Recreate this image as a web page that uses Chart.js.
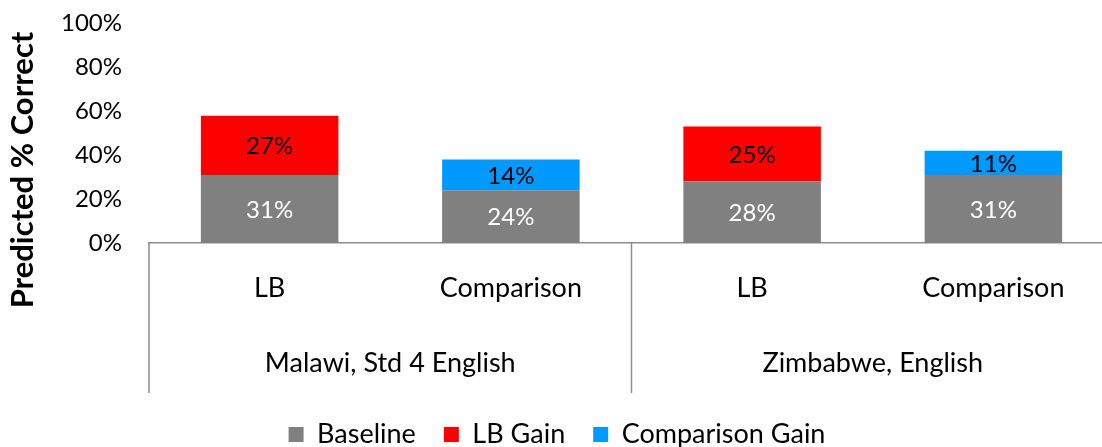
<!DOCTYPE html>
<html lang="en">
<head>
<meta charset="UTF-8">
<title>Predicted % Correct</title>
<script src="https://cdn.jsdelivr.net/npm/chart.js"></script>
<style>
  html, body { margin: 0; padding: 0; background: #fff; overflow: hidden; }
  #wrap { width: 1114px; height: 476px; margin-top: -18px; }
</style>
</head>
<body>
<div id="wrap"><canvas id="chart"></canvas></div>
<script>
// Data
const groups = ['Malawi, Std 4 English', 'Zimbabwe, English'];
const arms = ['LB', 'Comparison', 'LB', 'Comparison'];
const baseline = [31, 24, 28, 31];
const lbGain = [27, 0, 25, 0];
const comparisonGain = [0, 14, 0, 11];
const yMax = 100;
const yStep = 20;

const FONT = 'Lato, "Open Sans", sans-serif';
const axisGrey = '#8c8c8c';

// value labels in the middle of each segment
const barValues = {
  id: 'barValues',
  afterDatasetsDraw(chart) {
    const ctx = chart.ctx;
    ctx.save();
    ctx.font = '24px ' + FONT;
    ctx.textAlign = 'center';
    ctx.textBaseline = 'middle';
    chart.data.datasets.forEach((ds, i) => {
      chart.getDatasetMeta(i).data.forEach((bar, j) => {
        const v = ds.data[j];
        if (!v) return;
        const p = bar.getProps(['x', 'y', 'base'], true);
        ctx.fillStyle = ds.labelColor;
        ctx.fillText(v + '%', p.x, (p.y + p.base) / 2 + 1);
      });
    });
    ctx.restore();
  }
};

// vertical separators between the country groups, plus the y title
const groupFrame = {
  id: 'groupFrame',
  afterDraw(chart) {
    const ctx = chart.ctx;
    const x = chart.scales.x;
    const top = chart.chartArea.bottom;
    const bottom = chart.scales.x2.bottom;
    const mid = (x.getPixelForValue(1) + x.getPixelForValue(2)) / 2;
    ctx.save();
    ctx.strokeStyle = axisGrey;
    ctx.lineWidth = 1.5;
    [x.left, mid, x.right].forEach(px => {
      ctx.beginPath();
      ctx.moveTo(px, top);
      ctx.lineTo(px, bottom);
      ctx.stroke();
    });
    ctx.translate(23, 188);
    ctx.rotate(-Math.PI / 2);
    ctx.font = 'bold 31px ' + FONT;
    ctx.fillStyle = '#000';
    ctx.textAlign = 'center';
    ctx.textBaseline = 'middle';
    ctx.fillText('Predicted % Correct', 0, 0);
    ctx.restore();
  }
};

new Chart(document.getElementById('chart'), {
  type: 'bar',
  data: {
    labels: arms,
    datasets: [
      { label: 'Baseline', data: baseline, backgroundColor: '#808080', labelColor: '#fff', xAxisID: 'x' },
      { label: 'LB Gain', data: lbGain, backgroundColor: '#ff0000', labelColor: '#000', xAxisID: 'x' },
      { label: 'Comparison Gain', data: comparisonGain, backgroundColor: '#0099ff', labelColor: '#000', xAxisID: 'x' }
    ]
  },
  options: {
    responsive: true,
    maintainAspectRatio: false,
    animation: false,
    barPercentage: 0.57,
    categoryPercentage: 1,
    layout: { padding: { top: 10, bottom: 0 } },
    plugins: {
      legend: {
        position: 'bottom',
        labels: {
          boxWidth: 15,
          boxHeight: 15,
          padding: 28,
          color: '#000',
          font: { family: FONT, size: 27 }
        }
      },
      tooltip: { enabled: false }
    },
    scales: {
      x: {
        stacked: true,
        weight: 0,
        grid: { display: false },
        border: { display: true, color: axisGrey, width: 1.5 },
        ticks: { color: '#000', font: { family: FONT, size: 27 }, padding: 21 },
        afterFit(s) { s.height = 80; }
      },
      x2: {
        type: 'category',
        labels: groups,
        position: 'bottom',
        offset: true,
        weight: 1,
        grid: { display: false },
        border: { display: false },
        ticks: { color: '#000', font: { family: FONT, size: 27 }, padding: 16 },
        afterFit(s) { s.height = 70; }
      },
      y: {
        stacked: true,
        min: 0,
        max: yMax,
        grid: { display: false, drawTicks: false },
        border: { display: false },
        ticks: {
          stepSize: yStep,
          padding: 27,
          color: '#000',
          font: { family: FONT, size: 24 },
          callback: v => v + '%'
        },
        afterFit(s) { s.width = 149; }
      }
    }
  },
  plugins: [barValues, groupFrame]
});
</script>
</body>
</html>
